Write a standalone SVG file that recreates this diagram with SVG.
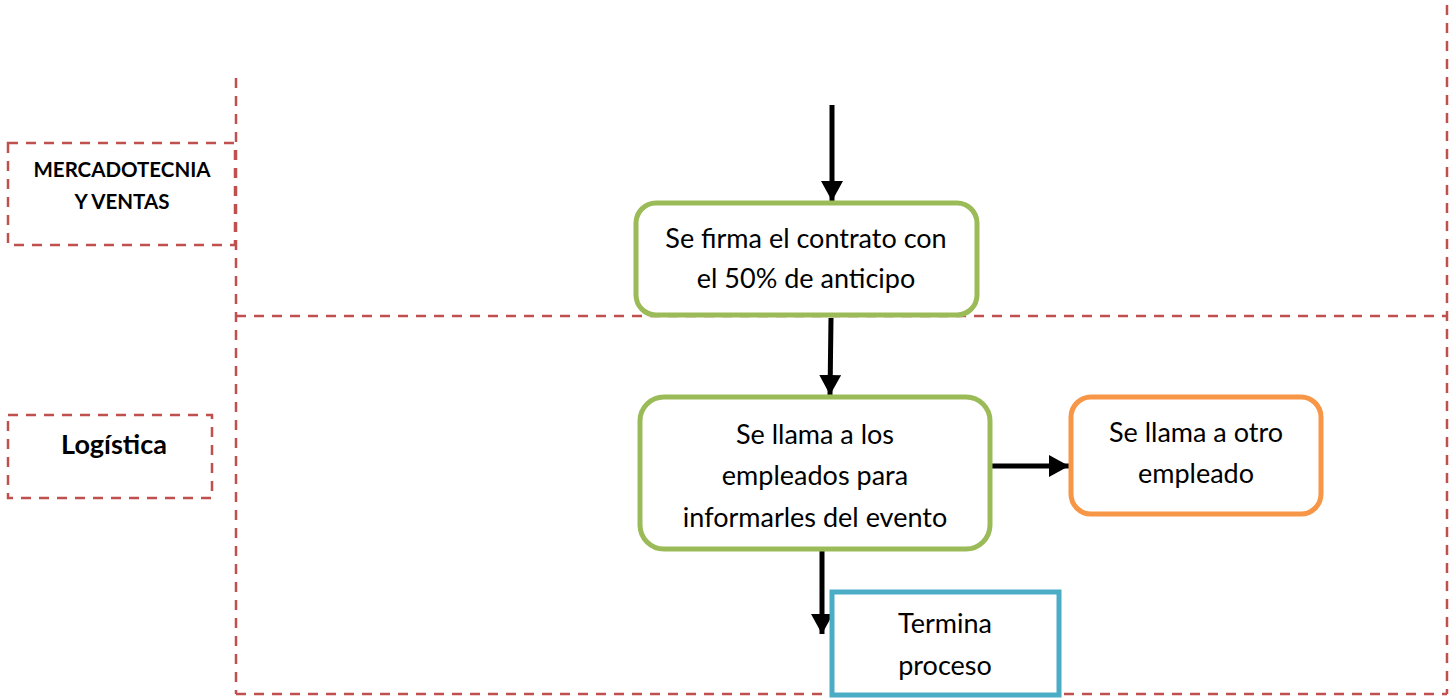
<svg xmlns="http://www.w3.org/2000/svg" width="1453" height="698" viewBox="0 0 1453 698">
<style>
.lane{fill:none;stroke:#C0504D;stroke-width:2.5;stroke-dasharray:10 8}
.lbl{font-family:Lato,"Open Sans",sans-serif;font-weight:bold;fill:#000;text-anchor:middle}
.t{font-family:Lato,"Open Sans",sans-serif;font-size:27px;fill:#000;text-anchor:middle}
.g{fill:#fff;stroke:#9BBB59;stroke-width:5}
.o{fill:#fff;stroke:#F79646;stroke-width:5}
.b{fill:#fff;stroke:#4BACC6;stroke-width:5}
.c{stroke:#000;stroke-width:5;fill:none}
</style>
<defs>
<marker id="ah" markerUnits="userSpaceOnUse" markerWidth="20" markerHeight="22" refX="20" refY="11" orient="auto">
<path d="M0,0 L20,11 L0,22 Z" fill="#000"/>
</marker>
</defs>
<rect width="1453" height="698" fill="#fff"/>
<g id="lanes">
<line class="lane" x1="236" y1="78" x2="236" y2="694"/>
<line class="lane" x1="1447" y1="5" x2="1447" y2="694"/>
<line class="lane" x1="236" y1="316" x2="1447" y2="316"/>
<line class="lane" x1="236" y1="694" x2="1447" y2="694"/>
</g>
<g id="lane-mercadotecnia">
<rect class="lane" x="8" y="143" width="227" height="102"/>
<text class="lbl" font-size="20.5" x="122" y="177">MERCADOTECNIA</text>
<text class="lbl" font-size="20.5" x="122" y="209">Y VENTAS</text>
</g>
<g id="lane-logistica">
<rect class="lane" x="8" y="415" width="204" height="83"/>
<text class="lbl" font-size="27" x="114" y="454">Logística</text>
</g>
<g id="connectors">
<line class="c" x1="832" y1="105" x2="832" y2="201" marker-end="url(#ah)"/>
<line class="c" x1="831" y1="318" x2="830" y2="395" marker-end="url(#ah)"/>
<line class="c" x1="992" y1="466" x2="1069" y2="466" marker-end="url(#ah)"/>
<line class="c" x1="822" y1="549" x2="822" y2="634" marker-end="url(#ah)"/>
</g>
<g id="n1">
<rect class="g" x="636" y="203" width="341" height="112" rx="20"/>
<text class="t" x="806" y="248">Se firma el contrato con</text>
<text class="t" x="806" y="288">el 50% de anticipo</text>
</g>
<g id="n2">
<rect class="g" x="640" y="397" width="350" height="152" rx="24"/>
<text class="t" x="815" y="444">Se llama a los</text>
<text class="t" x="815" y="485">empleados para</text>
<text class="t" x="815" y="527">informarles del evento</text>
</g>
<g id="n3">
<rect class="o" x="1071" y="397" width="250" height="117" rx="20"/>
<text class="t" x="1196" y="442">Se llama a otro</text>
<text class="t" x="1196" y="483">empleado</text>
</g>
<g id="n4">
<rect class="b" x="832" y="592" width="227" height="103"/>
<text class="t" x="945" y="633">Termina</text>
<text class="t" x="945" y="675">proceso</text>
</g>
</svg>
